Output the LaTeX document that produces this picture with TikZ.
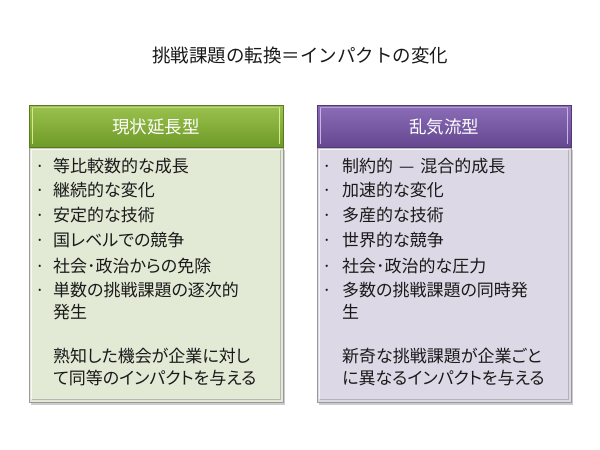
\documentclass[tikz,border=0pt]{standalone}
\usepackage{fontspec}
\setmainfont{Noto Sans CJK JP}
\newfontfamily\propjp[RawFeature=+palt]{Noto Sans CJK JP}
\usetikzlibrary{shadows}
\definecolor{ghTop}{HTML}{9CC24F}
\definecolor{ghBot}{HTML}{6E9A27}
\definecolor{gBody}{HTML}{E2E9D5}
\definecolor{gHi}{HTML}{D4EC8C}
\definecolor{phTop}{HTML}{8C6DB8}
\definecolor{phBot}{HTML}{654790}
\definecolor{pBody}{HTML}{DCD8E5}
\definecolor{pHi}{HTML}{C9B3EC}
\definecolor{edge}{HTML}{9A9A9A}
\definecolor{txt}{HTML}{1A1A1A}
\tikzset{
  hdrtext/.style={text=white,font=\fontsize{17.5pt}{20pt}\selectfont,inner sep=0pt},
  itemtext/.style={text=txt,font=\propjp\fontsize{17pt}{20pt}\selectfont,inner sep=0pt,anchor=base west},
  bul/.style={text=txt,font=\fontsize{17pt}{20pt}\selectfont,inner sep=0pt,anchor=base},
  titletext/.style={text=txt,font=\fontsize{18.5pt}{22pt}\selectfont,inner sep=0pt},
  bodybox/.style={draw=edge,line width=0.8pt,drop shadow={shadow xshift=1.5pt,shadow yshift=-2.5pt,opacity=0.4}},
}
\begin{document}
\begin{tikzpicture}[x=1pt,y=-1pt]
\useasboundingbox[fill=white] (0,0) rectangle (600,450);
% title
\node[titletext] (title) at (300,55) {挑戦課題の転換＝インパクトの変化};

% ---------- left box ----------
\path[bodybox,fill=gBody] (29,147) rectangle (283,402);
\draw[white,opacity=0.7,line width=1.2pt] (31.5,399) -- (31.5,149.5) -- (280.5,149.5);
\draw[black!40,opacity=0.6,line width=1.2pt] (280.5,149.5) -- (280.5,399.5) -- (31.5,399.5);
\shade[top color=ghTop,bottom color=ghBot,draw=ghBot!80!black,line width=0.6pt,drop shadow={shadow xshift=1pt,shadow yshift=-1.5pt,opacity=0.3}] (29,105) rectangle (283,147);
\draw[gHi,line width=1.5pt] (32.5,108) -- (32.5,144);
\draw[gHi,line width=1.5pt] (279.5,108) -- (279.5,144);
\draw[white,opacity=0.35,line width=1pt] (32,107) -- (280,107);
\node[hdrtext] (lh) at (156,127) {現状延長型};

\foreach \y in {172,196,221,246,272,296} \node[bul] at (40,\y) {·};
\node[itemtext] (l1) at (53,172) {等比較数的な成長};
\node[itemtext] (l2) at (53,196) {継続的な変化};
\node[itemtext] (l3) at (53,221) {安定的な技術};
\node[itemtext] (l4) at (53,246) {国レベルでの競争};
\node[itemtext] (l5) at (53,272) {社会･政治からの免除};
\node[itemtext] (l6) at (53,296) {単数の挑戦課題の逐次的};
\node[itemtext] (l6b) at (53,318) {発生};
\node[itemtext] (l7) at (53,362) {熟知した機会が企業に対し};
\node[itemtext] (l7b) at (53,384) {て同等のインパクトを与える};

% ---------- right box ----------
\path[bodybox,fill=pBody] (317,147) rectangle (571,402);
\draw[white,opacity=0.7,line width=1.2pt] (319.5,399) -- (319.5,149.5) -- (568.5,149.5);
\draw[black!40,opacity=0.6,line width=1.2pt] (568.5,149.5) -- (568.5,399.5) -- (319.5,399.5);
\shade[top color=phTop,bottom color=phBot,draw=phBot!80!black,line width=0.6pt,drop shadow={shadow xshift=1pt,shadow yshift=-1.5pt,opacity=0.3}] (317,105) rectangle (571,147);
\draw[pHi,line width=1.5pt] (320.5,108) -- (320.5,144);
\draw[pHi,line width=1.5pt] (567.5,108) -- (567.5,144);
\draw[white,opacity=0.35,line width=1pt] (320,107) -- (568,107);
\node[hdrtext] (rh) at (444,127) {乱気流型};

\foreach \y in {172,196,221,246,272,296} \node[bul] at (327,\y) {·};
\node[itemtext] (r1) at (342,172) {制約的\hspace{0.35em}—\hspace{0.35em}混合的成長};
\node[itemtext] (r2) at (342,196) {加速的な変化};
\node[itemtext] (r3) at (342,221) {多産的な技術};
\node[itemtext] (r4) at (342,246) {世界的な競争};
\node[itemtext] (r5) at (342,272) {社会･政治的な圧力};
\node[itemtext] (r6) at (342,296) {多数の挑戦課題の同時発};
\node[itemtext] (r6b) at (342,318) {生};
\node[itemtext] (r7) at (342,362) {新奇な挑戦課題が企業ごと};
\node[itemtext] (r7b) at (342,384) {に異なるインパクトを与える};
\end{tikzpicture}
\end{document}
